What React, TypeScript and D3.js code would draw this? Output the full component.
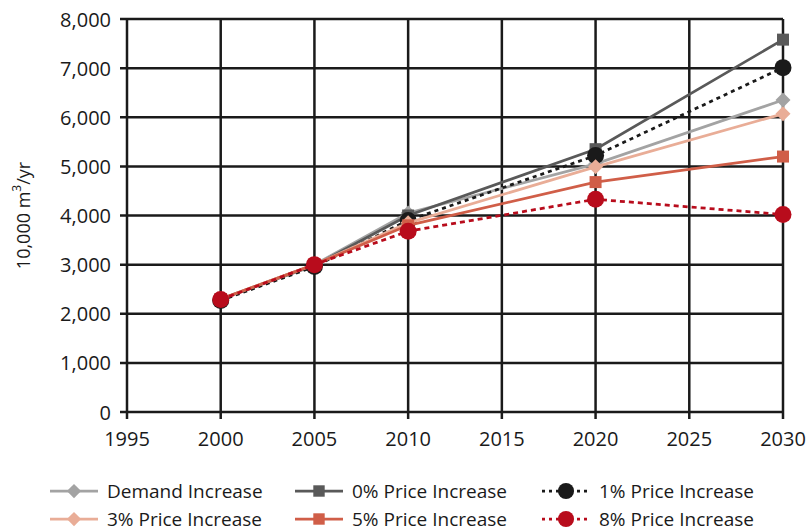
import { useEffect, useRef } from 'react';
import * as d3 from 'd3';

// Años con dato y tramos de eje
const YEARS = [2000, 2005, 2010, 2020, 2030];
const X_TICKS = [1995, 2000, 2005, 2010, 2015, 2020, 2025, 2030];
const Y_TICKS = [0, 1000, 2000, 3000, 4000, 5000, 6000, 7000, 8000];

// Valores (10,000 m3/yr)
const DEMAND = [2300, 3000, 4050, 5050, 6350];
const PRICE_0 = [2300, 2980, 4000, 5350, 7580];
const PRICE_1 = [2270, 2960, 3900, 5220, 7010];
const PRICE_3 = [2300, 3000, 3850, 4990, 6070];
const PRICE_5 = [2300, 3000, 3800, 4680, 5200];
const PRICE_8 = [2290, 3000, 3680, 4330, 4020];

type Marker = 'diamond' | 'square' | 'circle';

interface Series {
  name: string;
  values: number[];
  color: string;
  marker: Marker;
  dash?: string;
}

const SERIES: Series[] = [
  { name: 'Demand Increase', values: DEMAND, color: '#a3a3a3', marker: 'diamond' },
  { name: '0% Price Increase', values: PRICE_0, color: '#595959', marker: 'square' },
  { name: '1% Price Increase', values: PRICE_1, color: '#1a1a1a', marker: 'circle', dash: '4,4' },
  { name: '3% Price Increase', values: PRICE_3, color: '#e9ad97', marker: 'diamond' },
  { name: '5% Price Increase', values: PRICE_5, color: '#d05e48', marker: 'square' },
  { name: '8% Price Increase', values: PRICE_8, color: '#b80c1c', marker: 'circle', dash: '5,4' },
];

const FONT = '"Open Sans", "Noto Sans", sans-serif';
const GRID = '#1a1a1a';

function drawMarker(g: d3.Selection<SVGGElement, unknown, null, undefined>, m: Marker, x: number, y: number, color: string, scale = 1) {
  if (m === 'diamond') {
    const r = 7.5 * scale;
    g.append('path').attr('d', `M${x},${y - r}L${x + r},${y}L${x},${y + r}L${x - r},${y}Z`).attr('fill', color);
  } else if (m === 'square') {
    const s = 12 * scale;
    g.append('rect').attr('x', x - s / 2).attr('y', y - s / 2).attr('width', s).attr('height', s).attr('fill', color);
  } else {
    g.append('circle').attr('cx', x).attr('cy', y).attr('r', 8.5 * scale).attr('fill', color);
  }
}

export default function App() {
  const svgRef = useRef<SVGSVGElement>(null);

  useEffect(() => {
    if (!svgRef.current) return;
    const width = 807;
    const height = 531;
    const left = 127;
    const right = 783;
    const top = 19;
    const bottom = 412;

    const svg = d3.select(svgRef.current);
    svg.selectAll('*').remove();
    svg.attr('viewBox', `0 0 ${width} ${height}`);

    const x = d3.scaleLinear().domain([1995, 2030]).range([left, right]);
    const y = d3.scaleLinear().domain([0, 8000]).range([bottom, top]);

    const root = svg.append('g') as unknown as d3.Selection<SVGGElement, unknown, null, undefined>;

    // rejilla horizontal
    root.selectAll('line.hgrid')
      .data(Y_TICKS)
      .join('line')
      .attr('class', 'hgrid')
      .attr('x1', left - 7)
      .attr('x2', right)
      .attr('y1', (d) => y(d))
      .attr('y2', (d) => y(d))
      .attr('stroke', GRID)
      .attr('stroke-width', 2.5);

    // rejilla vertical
    root.selectAll('line.vgrid')
      .data(X_TICKS)
      .join('line')
      .attr('class', 'vgrid')
      .attr('x1', (d) => x(d))
      .attr('x2', (d) => x(d))
      .attr('y1', top)
      .attr('y2', bottom + 7)
      .attr('stroke', GRID)
      .attr('stroke-width', 2.5);

    root.selectAll('text.ylab')
      .data(Y_TICKS)
      .join('text')
      .attr('class', 'ylab')
      .attr('x', left - 16)
      .attr('y', (d) => y(d))
      .attr('text-anchor', 'end')
      .attr('dominant-baseline', 'central')
      .style('font-family', FONT)
      .style('font-size', '20px')
      .attr('fill', '#1a1a1a')
      .text((d) => d3.format(',')(d));

    root.selectAll('text.xlab')
      .data(X_TICKS)
      .join('text')
      .attr('class', 'xlab')
      .attr('x', (d) => x(d))
      .attr('y', bottom + 26)
      .attr('text-anchor', 'middle')
      .attr('dominant-baseline', 'central')
      .style('font-family', FONT)
      .style('font-size', '20px')
      .attr('fill', '#1a1a1a')
      .text((d) => String(d));

    const title = root.append('text')
      .attr('transform', `translate(23,${(top + bottom) / 2}) rotate(-90)`)
      .attr('text-anchor', 'middle')
      .attr('dominant-baseline', 'central')
      .style('font-family', FONT)
      .style('font-size', '18px')
      .attr('fill', '#1a1a1a');
    title.append('tspan').text('10,000 m');
    title.append('tspan').attr('dy', -7).style('font-size', '12px').text('3');
    title.append('tspan').attr('dy', 7).text('/yr');

    const line = d3.line<number>()
      .x((_, i) => x(YEARS[i]))
      .y((d) => y(d));

    SERIES.forEach((s) => {
      root.append('path')
        .attr('d', line(s.values) ?? '')
        .attr('fill', 'none')
        .attr('stroke', s.color)
        .attr('stroke-width', 2.75)
        .attr('stroke-dasharray', s.dash ?? null);
      s.values.forEach((v, i) => drawMarker(root, s.marker, x(YEARS[i]), y(v), s.color));
    });

    // leyenda
    const colX = [50, 295, 542];
    const rowY = [491, 519];
    SERIES.forEach((s, i) => {
      const cx = colX[i % 3];
      const cy = rowY[Math.floor(i / 3)];
      root.append('line')
        .attr('x1', cx)
        .attr('x2', cx + 48)
        .attr('y1', cy)
        .attr('y2', cy)
        .attr('stroke', s.color)
        .attr('stroke-width', 2.75)
        .attr('stroke-dasharray', s.dash ? '3,4' : null);
      drawMarker(root, s.marker, cx + 24, cy, s.color, 0.95);
      root.append('text')
        .attr('x', cx + 57)
        .attr('y', cy)
        .attr('dominant-baseline', 'central')
        .style('font-family', FONT)
        .style('font-size', '19px')
        .attr('fill', '#1a1a1a')
        .text(s.name);
    });
  }, []);

  return (
    <svg
      ref={svgRef}
      width={807}
      height={531}
      style={{ position: 'absolute', left: 0, top: 0, background: '#ffffff' }}
      role="img"
      aria-label="Water demand projections by price increase scenario"
    />
  );
}
